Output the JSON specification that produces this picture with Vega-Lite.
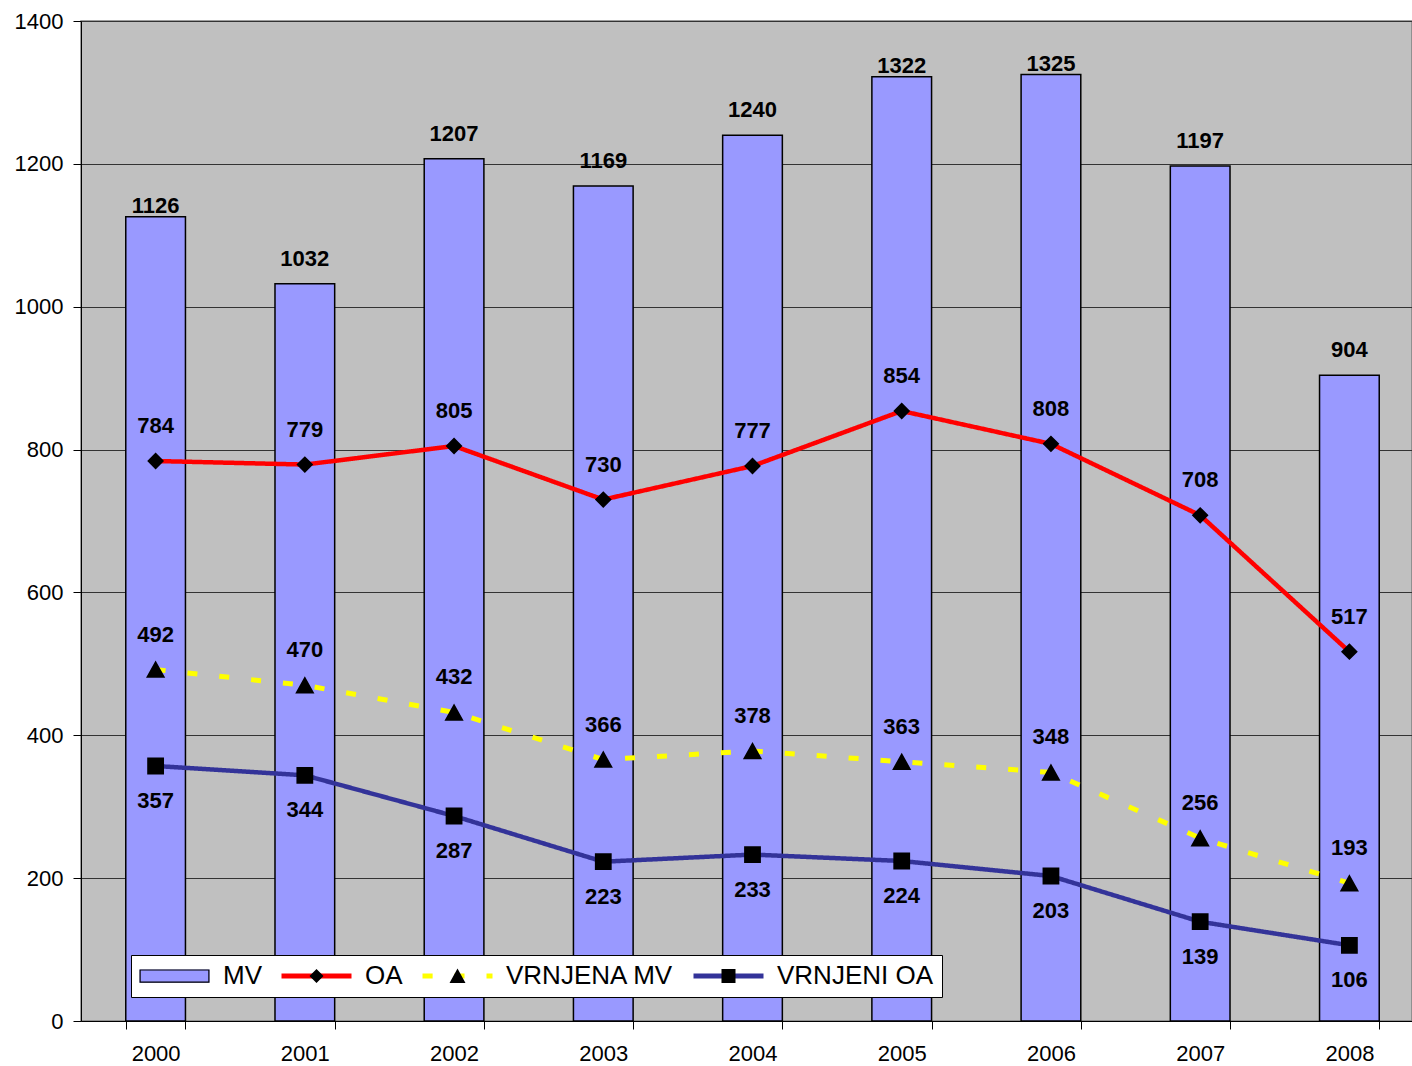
{
  "$schema": "https://vega.github.io/schema/vega-lite/v6.json",
  "autosize": {"type": "none"},
  "padding": {"left": 81, "top": 21, "right": 0, "bottom": 45},
  "width": 1331,
  "height": 1000,
  "background": "white",
  "config": {
    "view": {"fill": "#C0C0C0", "stroke": "#808080", "strokeWidth": 1.5},
    "font": "Liberation Sans"
  },
  "data": {
    "values": [
      {"year": "2000", "series": "MV", "value": 1126},
      {"year": "2001", "series": "MV", "value": 1032},
      {"year": "2002", "series": "MV", "value": 1207},
      {"year": "2003", "series": "MV", "value": 1169},
      {"year": "2004", "series": "MV", "value": 1240},
      {"year": "2005", "series": "MV", "value": 1322},
      {"year": "2006", "series": "MV", "value": 1325},
      {"year": "2007", "series": "MV", "value": 1197},
      {"year": "2008", "series": "MV", "value": 904},
      {"year": "2000", "series": "OA", "value": 784},
      {"year": "2001", "series": "OA", "value": 779},
      {"year": "2002", "series": "OA", "value": 805},
      {"year": "2003", "series": "OA", "value": 730},
      {"year": "2004", "series": "OA", "value": 777},
      {"year": "2005", "series": "OA", "value": 854},
      {"year": "2006", "series": "OA", "value": 808},
      {"year": "2007", "series": "OA", "value": 708},
      {"year": "2008", "series": "OA", "value": 517},
      {"year": "2000", "series": "VRNJENA MV", "value": 492},
      {"year": "2001", "series": "VRNJENA MV", "value": 470},
      {"year": "2002", "series": "VRNJENA MV", "value": 432},
      {"year": "2003", "series": "VRNJENA MV", "value": 366},
      {"year": "2004", "series": "VRNJENA MV", "value": 378},
      {"year": "2005", "series": "VRNJENA MV", "value": 363},
      {"year": "2006", "series": "VRNJENA MV", "value": 348},
      {"year": "2007", "series": "VRNJENA MV", "value": 256},
      {"year": "2008", "series": "VRNJENA MV", "value": 193},
      {"year": "2000", "series": "VRNJENI OA", "value": 357},
      {"year": "2001", "series": "VRNJENI OA", "value": 344},
      {"year": "2002", "series": "VRNJENI OA", "value": 287},
      {"year": "2003", "series": "VRNJENI OA", "value": 223},
      {"year": "2004", "series": "VRNJENI OA", "value": 233},
      {"year": "2005", "series": "VRNJENI OA", "value": 224},
      {"year": "2006", "series": "VRNJENI OA", "value": 203},
      {"year": "2007", "series": "VRNJENI OA", "value": 139},
      {"year": "2008", "series": "VRNJENI OA", "value": 106}
    ]
  },
  "encoding": {
    "x": {
      "field": "year", "type": "nominal", "sort": null,
      "scale": {"type": "band", "range": [0, 1343], "paddingInner": 0.6, "paddingOuter": 0.3},
      "axis": {
        "title": null, "labelAngle": 0, "labelFontSize": 22, "labelColor": "black",
        "labelFont": "Liberation Sans", "labelBaseline": "alphabetic", "labelPadding": 31,
        "tickSize": 8, "tickColor": "black", "tickBand": "extent", "domainColor": "black",
        "domainWidth": 1, "grid": false
      }
    },
    "y": {
      "field": "value", "type": "quantitative",
      "scale": {"domain": [0, 1400], "nice": false, "zero": true},
      "axis": {
        "title": null, "values": [0, 200, 400, 600, 800, 1000, 1200, 1400], "format": "d",
        "labelFontSize": 22, "labelColor": "black", "labelFont": "Liberation Sans",
        "labelPadding": 10, "tickSize": 8, "tickColor": "black", "domainColor": "black",
        "grid": true, "gridColor": "#333333", "gridWidth": 1
      }
    }
  },
  "layer": [
    {
      "transform": [{"filter": "datum.series === 'MV'"}],
      "mark": {"type": "bar", "stroke": "black", "strokeWidth": 1.5},
      "encoding": {
        "color": {
          "field": "series", "type": "nominal",
          "scale": {"range": ["#9999FF", "#FF0000", "#FFFF00", "#333399"]},
          "legend": {
            "orient": "none", "direction": "horizontal", "legendX": 50, "legendY": 934,
            "title": null, "padding": 8, "labelFontSize": 26, "labelFont": "Liberation Sans",
            "labelColor": "black", "labelOffset": 58, "columnPadding": 19, "symbolSize": 625,
            "symbolStrokeWidth": 0, "labelLimit": 500, "fillColor": "white",
            "strokeColor": "black", "zindex": 2, "symbolOpacity": 1,
            "symbolType": {"expr": "datum.value === 'MV' ? 'M-1,-0.53H4.6V0.53H-1Z' : datum.value === 'VRNJENA MV' ? 'M-1,-0.2H-0.19V0.2H-1Z M1.55,-0.2H2.36V0.2H1.55Z M4.12,-0.2H4.6V0.2H4.12Z' : 'M-1,-0.2H4.6V0.2H-1Z'"}
          }
        }
      }
    },
    {
      "transform": [{"filter": "datum.series === 'MV' && (datum.year === '2000' || datum.year === '2005' || datum.year === '2006')"}],
      "mark": {"type": "text", "font": "Liberation Sans", "fontWeight": "bold", "fontSize": 22, "baseline": "alphabetic", "dy": -4, "color": "black"},
      "encoding": {"text": {"field": "value", "type": "quantitative"}}
    },
    {
      "transform": [{"filter": "datum.series === 'MV' && datum.year !== '2000' && datum.year !== '2005' && datum.year !== '2006'"}],
      "mark": {"type": "text", "font": "Liberation Sans", "fontWeight": "bold", "fontSize": 22, "baseline": "alphabetic", "dy": -18, "color": "black"},
      "encoding": {"text": {"field": "value", "type": "quantitative"}}
    },
    {
      "transform": [{"filter": "datum.series !== 'MV'"}],
      "mark": {"type": "line"},
      "encoding": {
        "color": {
          "field": "series", "type": "nominal",
          "legend": {
            "orient": "none", "direction": "horizontal", "legendX": 50, "legendY": 934,
            "title": null, "padding": 8, "labelFontSize": 26, "labelFont": "Liberation Sans",
            "labelColor": "black", "labelOffset": 58, "columnPadding": 19, "symbolSize": 625,
            "symbolStrokeWidth": 0, "labelLimit": 500, "fillColor": "white",
            "strokeColor": "black", "zindex": 2, "symbolOpacity": 1,
            "symbolType": {"expr": "datum.value === 'MV' ? 'M-1,-0.53H4.6V0.53H-1Z' : datum.value === 'VRNJENA MV' ? 'M-1,-0.2H-0.19V0.2H-1Z M1.55,-0.2H2.36V0.2H1.55Z M4.12,-0.2H4.6V0.2H4.12Z' : 'M-1,-0.2H4.6V0.2H-1Z'"}
          }
        },
        "strokeDash": {
          "condition": {"test": "datum.series === 'VRNJENA MV'", "value": [10, 22]},
          "value": [1, 0]
        },
        "strokeWidth": {
          "condition": {"test": "datum.series === 'VRNJENA MV'", "value": 5},
          "value": 4.5
        }
      }
    },
    {
      "transform": [{"filter": "datum.series !== 'MV'"}],
      "mark": {"type": "point", "filled": true, "fill": "black", "strokeWidth": 0, "size": 900, "opacity": 1, "xOffset": -27},
      "encoding": {
        "shape": {
          "field": "series", "type": "nominal",
          "scale": {
            "domain": ["MV", "OA", "VRNJENA MV", "VRNJENI OA"],
            "range": [
              "M-1,-0.53H4.6V0.53H-1Z M-0.904,-0.434V0.434H4.504V-0.434Z",
              "M-1,0L4.6,0M1.8,-0.56L2.36,0L1.8,0.56L1.24,0Z",
              "M-1,0L4.6,0M1.8,-0.6L2.44,0.55L1.16,0.55Z",
              "M-1,0L4.6,0M1.24,-0.56H2.36V0.56H1.24Z"
            ]
          },
          "legend": {
            "orient": "none", "direction": "horizontal", "legendX": 50, "legendY": 934,
            "title": null, "padding": 8, "labelFontSize": 26, "labelFont": "Liberation Sans",
            "labelOffset": 58, "columnPadding": 19, "symbolSize": 625,
            "symbolStrokeWidth": 0, "labelLimit": 500, "labelOpacity": 0,
            "symbolFillColor": "black", "symbolStrokeColor": "transparent", "symbolOpacity": 1,
            "zindex": 3
          }
        }
      }
    },
    {
      "transform": [{"filter": "datum.series === 'OA' || datum.series === 'VRNJENA MV'"}],
      "mark": {"type": "text", "font": "Liberation Sans", "fontWeight": "bold", "fontSize": 22, "baseline": "alphabetic", "dy": -28, "color": "black"},
      "encoding": {"text": {"field": "value", "type": "quantitative"}}
    },
    {
      "transform": [{"filter": "datum.series === 'VRNJENI OA'"}],
      "mark": {"type": "text", "font": "Liberation Sans", "fontWeight": "bold", "fontSize": 22, "baseline": "alphabetic", "dy": 42, "color": "black"},
      "encoding": {"text": {"field": "value", "type": "quantitative"}}
    }
  ]
}
